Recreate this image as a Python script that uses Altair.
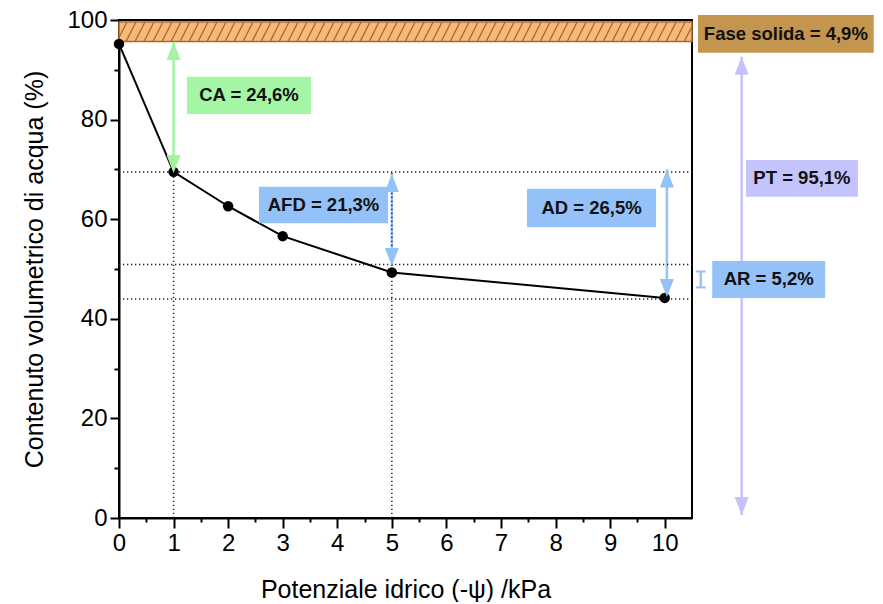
import altair as alt
import pandas as pd
import numpy as np

# ---- measured data (water retention curve) ----
psi = [0, 1, 2, 3, 5, 10]
theta = [95.2, 69.5, 62.6, 56.6, 49.3, 44.2]

# ---- dotted guide lines ----
h_levels = [69.5, 50.9, 44.0]
v_psi = [1, 5]
v_top = [69.5, 69.5]

# ---- solid-phase band ----
band_bottom, band_top = 95.7, 99.6

# ---- double arrows (x, top tip, bottom tip) ----
arrow_x = [1.0, 5.0, 10.04, 11.41]
arrow_top = [95.6, 69.1, 70.0, 92.6]
arrow_bot = [69.3, 50.6, 44.4, 0.6]
arrow_col = ["#a3f3a3", "#94c1f7", "#94c1f7", "#c2c2fd"]

# ---- AR bracket ----
ar_x, ar_lo, ar_hi = 10.66, 46.3, 49.5

# ---- label boxes ----
labels = ["CA = 24,6%", "AFD = 21,3%", "AD = 26,5%", "PT = 95,1%", "AR = 5,2%", "Fase solida = 4,9%"]
box_x1 = [1.246, 2.566, 7.477, 11.49, 10.87, 10.61]
box_x2 = [3.518, 4.930, 9.841, 13.54, 12.94, 13.83]
box_y1 = [81.1, 59.2, 58.4, 64.5, 44.2, 93.4]
box_y2 = [88.6, 66.5, 66.1, 71.9, 51.6, 101.0]
box_col = ["#a4f6a4", "#94c1f7", "#94c1f7", "#c4c4fd", "#94c1f7", "#c4954f"]

FONT = "Liberation Sans"
xs = alt.Scale(domain=[0, 10.5], nice=False, zero=False)
ys = alt.Scale(domain=[0, 100], nice=False, zero=False)

xaxis = alt.Axis(
    values=[i * 0.5 for i in range(21)],
    labelExpr="datum.value % 1 === 0 ? format(datum.value, 'd') : ''",
    tickSize={"condition": {"test": "datum.value % 1 === 0", "value": 10}, "value": 4},
    title="Potenziale idrico (-ψ) /kPa",
    grid=False, domainColor="black", domainWidth=2, tickColor="black", tickWidth=2,
    labelFontSize=24, titleFontSize=25, titleFontWeight="normal",
    labelColor="black", titleColor="black", labelFont=FONT, titleFont=FONT,
    labelPadding=3, titlePadding=22, labelFlush=False, labelOverlap=False,
)
yaxis = alt.Axis(
    values=list(range(0, 101, 10)),
    labelExpr="datum.value % 20 === 0 ? datum.label : ''",
    tickSize={"condition": {"test": "datum.value % 20 === 0", "value": 9}, "value": 5},
    title="Contenuto volumetrico di acqua (%)",
    grid=False, domainColor="black", domainWidth=2, tickColor="black", tickWidth=2,
    labelFontSize=24, titleFontSize=25, titleFontWeight="normal",
    labelColor="black", titleColor="black", labelFont=FONT, titleFont=FONT,
    labelPadding=3, titlePadding=19, labelFlush=False, labelOverlap=False,
)


def X(f):
    return alt.X(f, type="quantitative", scale=xs, axis=xaxis)


def Y(f):
    return alt.Y(f, type="quantitative", scale=ys, axis=yaxis)


curve = pd.DataFrame({"x": psi, "y": theta})

band_df = pd.DataFrame({"x": [0.0], "x2": [10.5], "y": [band_bottom], "y2": [band_top]})
band = alt.Chart(band_df).mark_rect(fill="#f7b87a", stroke="#a86a30", strokeWidth=1.5).encode(
    x=X("x"), x2="x2", y=Y("y"), y2="y2")

hx = np.arange(-0.2, 10.5, 0.165)
hatch_df = pd.DataFrame({"x": hx, "x2": hx + 0.18, "y": band_bottom, "y2": band_top})
hatch = alt.Chart(hatch_df).mark_rule(color="#a86a30", strokeWidth=1.3, clip=True).encode(
    x=X("x"), x2="x2", y=Y("y"), y2="y2")

arr_df = pd.DataFrame({"x": arrow_x, "top": arrow_top, "bot": arrow_bot, "c": arrow_col})
shafts = alt.Chart(arr_df).mark_rule(strokeWidth=2.5).encode(
    x=X("x"), y=Y("bot"), y2="top", color=alt.Color("c:N", scale=None))
heads_up = alt.Chart(arr_df).mark_point(
    shape="M0,0L-0.78,2L0.78,2Z", filled=True, size=324, opacity=1).encode(
    x=X("x"), y=Y("top"), color=alt.Color("c:N", scale=None))
heads_dn = alt.Chart(arr_df).mark_point(
    shape="M0,0L-0.78,-2L0.78,-2Z", filled=True, size=324, opacity=1).encode(
    x=X("x"), y=Y("bot"), color=alt.Color("c:N", scale=None))

ar_df = pd.DataFrame({"x": [ar_x, ar_x], "y": [ar_lo, ar_hi], "lo": [ar_lo, ar_lo], "hi": [ar_hi, ar_hi]})
ar_rule = alt.Chart(ar_df).mark_rule(color="#94c1f7", strokeWidth=2).encode(
    x=X("x"), y=Y("lo"), y2="hi")
ar_caps = alt.Chart(ar_df).mark_point(
    shape="M-1,0L1,0", filled=False, size=100, color="#94c1f7", strokeWidth=2, opacity=1).encode(
    x=X("x"), y=Y("y"))

hdf = pd.DataFrame({"y": h_levels, "x": 0.0, "x2": 10.5})
hdots = alt.Chart(hdf).mark_rule(color="#222222", strokeWidth=1.5, strokeDash=[1.3, 2.7]).encode(
    x=X("x"), x2="x2", y=Y("y"))
vdf = pd.DataFrame({"x": v_psi, "y": 0.0, "y2": v_top})
vdots = alt.Chart(vdf).mark_rule(color="#222222", strokeWidth=1.5, strokeDash=[1.3, 2.7]).encode(
    x=X("x"), y=Y("y"), y2="y2")

line = alt.Chart(curve).mark_line(color="black", strokeWidth=2).encode(x=X("x"), y=Y("y"))
pts = alt.Chart(curve).mark_circle(color="black", size=110, opacity=1).encode(x=X("x"), y=Y("y"))

box_df = pd.DataFrame({"label": labels, "x1": box_x1, "x2": box_x2, "y1": box_y1, "y2": box_y2,
                       "c": box_col})
box_df["xc"] = (box_df["x1"] + box_df["x2"]) / 2
box_df["yc"] = (box_df["y1"] + box_df["y2"]) / 2
boxes = alt.Chart(box_df).mark_rect().encode(
    x=X("x1"), x2="x2", y=Y("y1"), y2="y2", color=alt.Color("c:N", scale=None))
texts = alt.Chart(box_df).mark_text(
    font=FONT, fontSize=18.5, fontWeight="bold", color="#111111", align="center", baseline="middle").encode(
    x=X("xc"), y=Y("yc"), text="label:N")

chart = alt.layer(
    band, hatch, shafts, ar_rule, ar_caps, hdots, vdots, line, pts, heads_up, heads_dn, boxes, texts
).properties(
    width=573, height=498,
    background="white",
    autosize=alt.AutoSizeParams(type="none"),
    padding={"left": 111, "top": 12, "right": 183, "bottom": 84},
).configure_view(stroke="black", strokeWidth=2)

chart.save("out.html", embed_options={"renderer": "svg", "actions": False})
